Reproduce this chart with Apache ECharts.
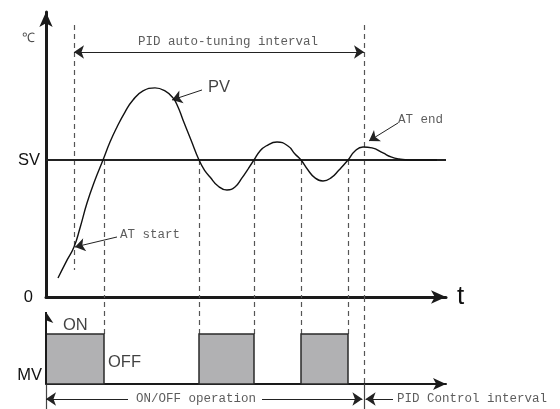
<!DOCTYPE html>
<html><head><meta charset="utf-8">
<script src="https://cdn.jsdelivr.net/npm/echarts@6/dist/echarts.min.js"></script>
<style>html,body{margin:0;padding:0;background:#fff}#c{width:560px;height:409px}</style>
</head><body><div id="c"></div>
<script>
// ---- data (time units 0..100, PV in % of SV) ----
const pvT = [3, 5, 7, 8.5, 10.25, 12.25, 14.25, 16, 17.75, 19.75, 21.75, 24.25, 27.25, 29.75, 31.75, 33, 34.25, 36.25, 38.25, 39.75, 41, 43, 45.25, 47.25, 49, 50.5, 52, 53.5, 55, 57.75, 60.5, 62.25, 63.75, 65.5, 67.25, 69.25, 71.25, 73.25, 75.5, 77.25, 79.25, 81.5, 84.25, 86.25, 88.25, 91, 97.75];
const pvV = [13.9, 25.5, 36.5, 50.4, 68.6, 85.4, 100, 113.1, 124.1, 135.0, 143.8, 150.4, 152.6, 150.4, 145.3, 138.7, 129.2, 114.6, 100, 92.0, 87.6, 81.0, 78.1, 80.3, 86.9, 93.4, 100, 106.6, 110.2, 113.1, 110.2, 104.4, 100, 92.7, 86.9, 84.7, 86.9, 92.7, 100, 106.6, 109.5, 108.8, 105.1, 102.2, 100.7, 100, 100];
const SV = 100;
const atStartT = 7;
const atEndT = 79.5;
const switchT = [14.5, 38.25, 52, 63.75, 75.5];
const mvOnStart = [0, 38.25, 63.75];
const mvOnEnd = [14.5, 52, 75.5];
const ON = 1, OFF = 0;
const yTickLabels = {0: '0', 100: 'SV'};
const mvTickLabels = {0: 'MV'};

const MONO = '"Liberation Mono", "DejaVu Sans Mono", monospace';
const SANS = '"Liberation Sans", Arial, sans-serif';

const topMax = 208, mvMin = -0.5, mvMax = 1.74;
const dashTop = topMax - 9.5;
const intervalY = 178.8, opY = -0.3;

function textItem(t, v, s, font, size, align, color) {
  return {value: [t, v], name: s, label: {show: true, position: 'inside', formatter: '{b}', fontFamily: font, fontSize: size, align: align, verticalAlign: 'middle', color: color}};
}

const dashed = {color: '#555', width: 1.2, type: [5, 4], opacity: 1};

const option = {
  animation: false,
  backgroundColor: '#fff',
  grid: [
    {left: 46, top: 12, width: 400, height: 285},
    {left: 46, top: 297, width: 400, height: 112}
  ],
  xAxis: [
    {gridIndex: 0, type: 'value', min: 0, max: 100, splitLine: {show: false}, axisTick: {show: false}, axisLabel: {show: false},
     axisLine: {show: true, onZero: true, symbol: ['none', 'arrow'], symbolSize: [10, 15], lineStyle: {color: '#1a1a1a', width: 3}},
     name: 't', nameLocation: 'end', nameGap: 11, nameTextStyle: {fontFamily: SANS, fontSize: 26, color: '#111', verticalAlign: 'middle'}},
    {gridIndex: 1, type: 'value', min: 0, max: 100, splitLine: {show: false}, axisTick: {show: false}, axisLabel: {show: false},
     axisLine: {show: true, onZero: true, symbol: ['none', 'arrow'], symbolSize: [9, 13], lineStyle: {color: '#1a1a1a', width: 2}}}
  ],
  yAxis: [
    {gridIndex: 0, type: 'value', min: 0, max: topMax, interval: 100, splitLine: {show: false}, axisTick: {show: false},
     axisLine: {show: true, onZero: false, symbol: ['none', 'arrow'], symbolSize: [10, 15], lineStyle: {color: '#1a1a1a', width: 3}},
     axisLabel: {margin: 6, fontFamily: SANS, fontSize: 16.5, color: '#111', formatter: v => yTickLabels[v] !== undefined ? (v === 0 ? '{z|0}' : yTickLabels[v]) : '',
       rich: {z: {fontFamily: SANS, fontSize: 16.5, color: '#111', padding: [0, 7, 0, 0]}}}},
    {gridIndex: 1, type: 'value', min: mvMin, max: mvMax, interval: 0.5, splitLine: {show: false}, axisTick: {show: false},
     axisLine: {show: false},
     axisLabel: {margin: 4, fontFamily: SANS, fontSize: 16.5, color: '#111', verticalAlign: 'bottom', formatter: v => mvTickLabels[v] !== undefined ? mvTickLabels[v] : ''}}
  ],
  series: [
    {type: 'line', xAxisIndex: 0, yAxisIndex: 0, data: [[0, SV], [100, SV]], symbol: 'none', lineStyle: {color: '#222', width: 2}, z: 3},
    {type: 'line', xAxisIndex: 0, yAxisIndex: 0, data: pvT.map((t, i) => [t, pvV[i]]), smooth: 0.5, symbol: 'none', lineStyle: {color: '#111', width: 1.4}, z: 4},
    {type: 'lines', coordinateSystem: 'cartesian2d', xAxisIndex: 0, yAxisIndex: 0, symbol: 'none', lineStyle: dashed,
     data: [{coords: [[atStartT, dashTop], [atStartT, 19.7]]}, {coords: [[atEndT, dashTop], [atEndT, 0]]}]
       .concat(switchT.map(t => ({coords: [[t, SV], [t, 0]]})))},
    {type: 'lines', coordinateSystem: 'cartesian2d', xAxisIndex: 0, yAxisIndex: 0, symbol: ['arrow', 'arrow'], symbolSize: 10,
     lineStyle: {color: '#222', width: 1.2, opacity: 1},
     data: [{coords: [[atStartT, intervalY], [atEndT, intervalY]]}]},
    {type: 'lines', coordinateSystem: 'cartesian2d', xAxisIndex: 0, yAxisIndex: 0, symbol: ['none', 'arrow'], symbolSize: 10,
     lineStyle: {color: '#222', width: 1, opacity: 1},
     data: [
       {coords: [[39, 151.1], [31.5, 143.8]]},
       {coords: [[17.75, 43.8], [7.25, 36.5]]},
       {coords: [[88, 127], [80.75, 113.9]]}
     ]},
    {type: 'scatter', xAxisIndex: 0, yAxisIndex: 0, symbolSize: 0, clip: false, silent: true,
     data: [
       textItem(-4.5, 189, '℃', SANS, 13, 'center', '#222'),
       textItem(40.5, 152.6, 'PV', SANS, 16.5, 'left', '#111'),
       textItem(45.5, 186.1, 'PID auto-tuning interval', MONO, 12.5, 'center', '#333'),
       textItem(18.5, 45.3, 'AT start', MONO, 12.5, 'left', '#333'),
       textItem(88, 129.2, 'AT end', MONO, 12.5, 'left', '#333')
     ]},
    {type: 'custom', xAxisIndex: 1, yAxisIndex: 1, z: 3,
     data: mvOnStart.map((s, i) => [s, mvOnEnd[i], ON]),
     encode: {x: [0, 1], y: 2},
     renderItem: function (params, api) {
       const a = api.coord([api.value(0), api.value(2)]);
       const b = api.coord([api.value(1), OFF]);
       return {type: 'rect', shape: {x: a[0], y: a[1], width: b[0] - a[0], height: b[1] - a[1]},
               style: {fill: '#b1b1b3', stroke: '#2a2a2a', lineWidth: 1.5}};
     }},
    {type: 'lines', coordinateSystem: 'cartesian2d', xAxisIndex: 1, yAxisIndex: 1, symbol: ['none', 'arrow'], symbolSize: 11,
     lineStyle: {color: '#1a1a1a', width: 2, opacity: 1}, z: 5,
     data: [{coords: [[0, 0], [0, 1.44]]}]},
    {type: 'lines', coordinateSystem: 'cartesian2d', xAxisIndex: 1, yAxisIndex: 1, symbol: 'none', lineStyle: dashed,
     data: switchT.map(t => ({coords: [[t, ON], [t, mvMax]]})).concat([{coords: [[atEndT, mvMax], [atEndT, 0]]}])},
    {type: 'lines', coordinateSystem: 'cartesian2d', xAxisIndex: 1, yAxisIndex: 1, symbol: 'none', lineStyle: {color: '#444', width: 1.2, opacity: 1},
     data: [{coords: [[0, 0], [0, mvMin]]}, {coords: [[atEndT, 0], [atEndT, mvMin]]}]},
    {type: 'lines', coordinateSystem: 'cartesian2d', xAxisIndex: 1, yAxisIndex: 1, symbol: ['none', 'arrow'], symbolSize: 10,
     lineStyle: {color: '#222', width: 1.2, opacity: 1},
     data: [
       {coords: [[20.5, opY], [0, opY]]},
       {coords: [[54, opY], [atEndT - 0.4, opY]]},
       {coords: [[86.75, opY], [atEndT + 0.4, opY]]}
     ]},
    {type: 'scatter', xAxisIndex: 1, yAxisIndex: 1, symbolSize: 0, clip: false, silent: true,
     data: [
       textItem(4.25, 1.18, 'ON', SANS, 16.5, 'left', '#111'),
       textItem(15.5, 0.44, 'OFF', SANS, 16.5, 'left', '#111'),
       textItem(37.5, opY, 'ON/OFF operation', MONO, 12.5, 'center', '#333'),
       textItem(87.75, opY, 'PID Control interval', MONO, 12.5, 'left', '#333')
     ]}
  ]
};
const chart = echarts.init(document.getElementById('c'), null, {renderer: 'canvas'});
chart.setOption(option);
</script></body></html>
